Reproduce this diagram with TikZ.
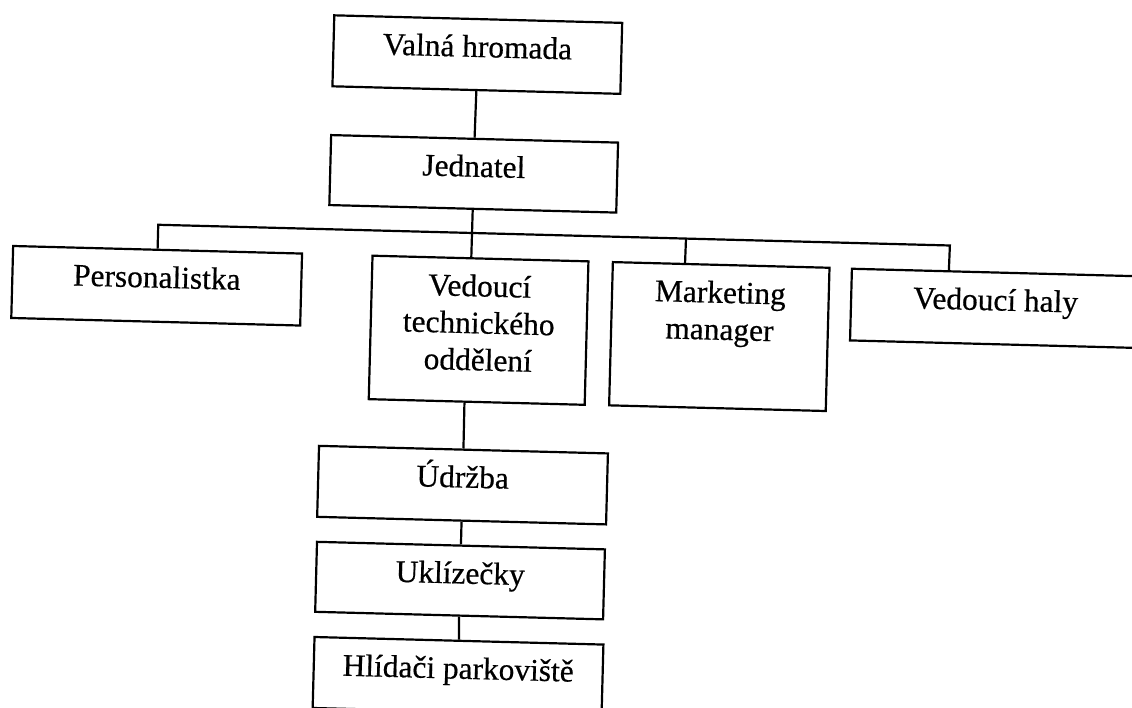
\documentclass[tikz,border=0pt]{standalone}
\usepackage{fontspec}
\setmainfont{Liberation Serif}
\newfontfamily\scanfont[FakeBold=0.5]{Liberation Serif}
\usetikzlibrary{calc}
\tikzset{
  box/.style={draw=black, line width=2.2pt, rectangle, inner sep=0pt, anchor=north},
  lbl/.style={inner sep=0pt, anchor=base, font=\scanfont\fontsize{31.4}{37}\selectfont},
  conn/.style={draw=black, line width=2.2pt, line join=miter}
}
\newcommand\mylines[1]{\vtop{\halign{\hfil##\hfil\cr#1\crcr}}}
\begin{document}
\begin{tikzpicture}[x=1pt,y=-1pt]
\useasboundingbox (0,0) rectangle (1132,708);
\fill[white] (0,0) rectangle (1132,708);
\clip (0,0) rectangle (1132,708);
\begin{scope}[rotate around={-1.5:(566,354)}, transform shape]
  % boxes
  \node[box, minimum width=288pt, minimum height=71pt] (vh) at (469.5,20.4) {};
  \node[box, minimum width=287pt, minimum height=70pt] (jd) at (469,140.2) {};
  \node[box, minimum width=289pt, minimum height=72pt] (pers) at (155,259.4) {};
  \node[box, minimum width=216pt, minimum height=143.5pt] (vt) at (478,259.7) {};
  \node[box, minimum width=216.7pt, minimum height=143.3pt] (mm) at (718.8,259.8) {};
  \node[box, minimum width=289pt, minimum height=71.7pt] (haly) at (994.1,260.2) {};
  \node[box, minimum width=289pt, minimum height=71pt] (ud) at (466,451.2) {};
  \node[box, minimum width=288pt, minimum height=70pt] (uk) at (466,547.2) {};
  \node[box, minimum width=289pt, minimum height=71pt] (hl) at (466.5,642.4) {};
  % texts
  \node[lbl] (vht) at (469.5,59.4) {Valná hromada};
  \node[lbl] (jdt) at (469,179.2) {Jednatel};
  \node[lbl] (perst) at (155,298.4) {Personalistka};
  \node[lbl] (vtt) at (478,298.7) {\mylines{Vedoucí\cr technického\cr oddělení}};
  \node[lbl] (mmt) at (718.8,298.8) {\mylines{Marketing\cr manager}};
  \node[lbl] (halyt) at (994.1,299.2) {Vedoucí haly};
  \node[lbl] (udt) at (466,490.2) {Údržba};
  \node[lbl] (ukt) at (466,586.2) {Uklízečky};
  \node[lbl] (hlt) at (466.5,681.4) {Hlídači parkoviště};
  % connectors
  \coordinate (bL) at (155,235.5);
  \coordinate (bM) at (683,235.5);
  \coordinate (bR) at (947,235.5);
  \draw[conn] (vh.south) -- (jd.north);
  \draw[conn] (jd.south) -- ($(vt.north west)!0.458!(vt.north east)$);
  \draw[conn] (pers.north) -- (bL) -- (bR) -- ($(haly.north west)!0.337!(haly.north east)$);
  \draw[conn] (bM) -- ($(mm.north west)!0.335!(mm.north east)$);
  \draw[conn] ($(vt.south west)!0.444!(vt.south east)$) -- (ud.north);
  \draw[conn] (ud.south) -- (uk.north);
  \draw[conn] (uk.south) -- (hl.north);
\end{scope}
\end{tikzpicture}
\end{document}
